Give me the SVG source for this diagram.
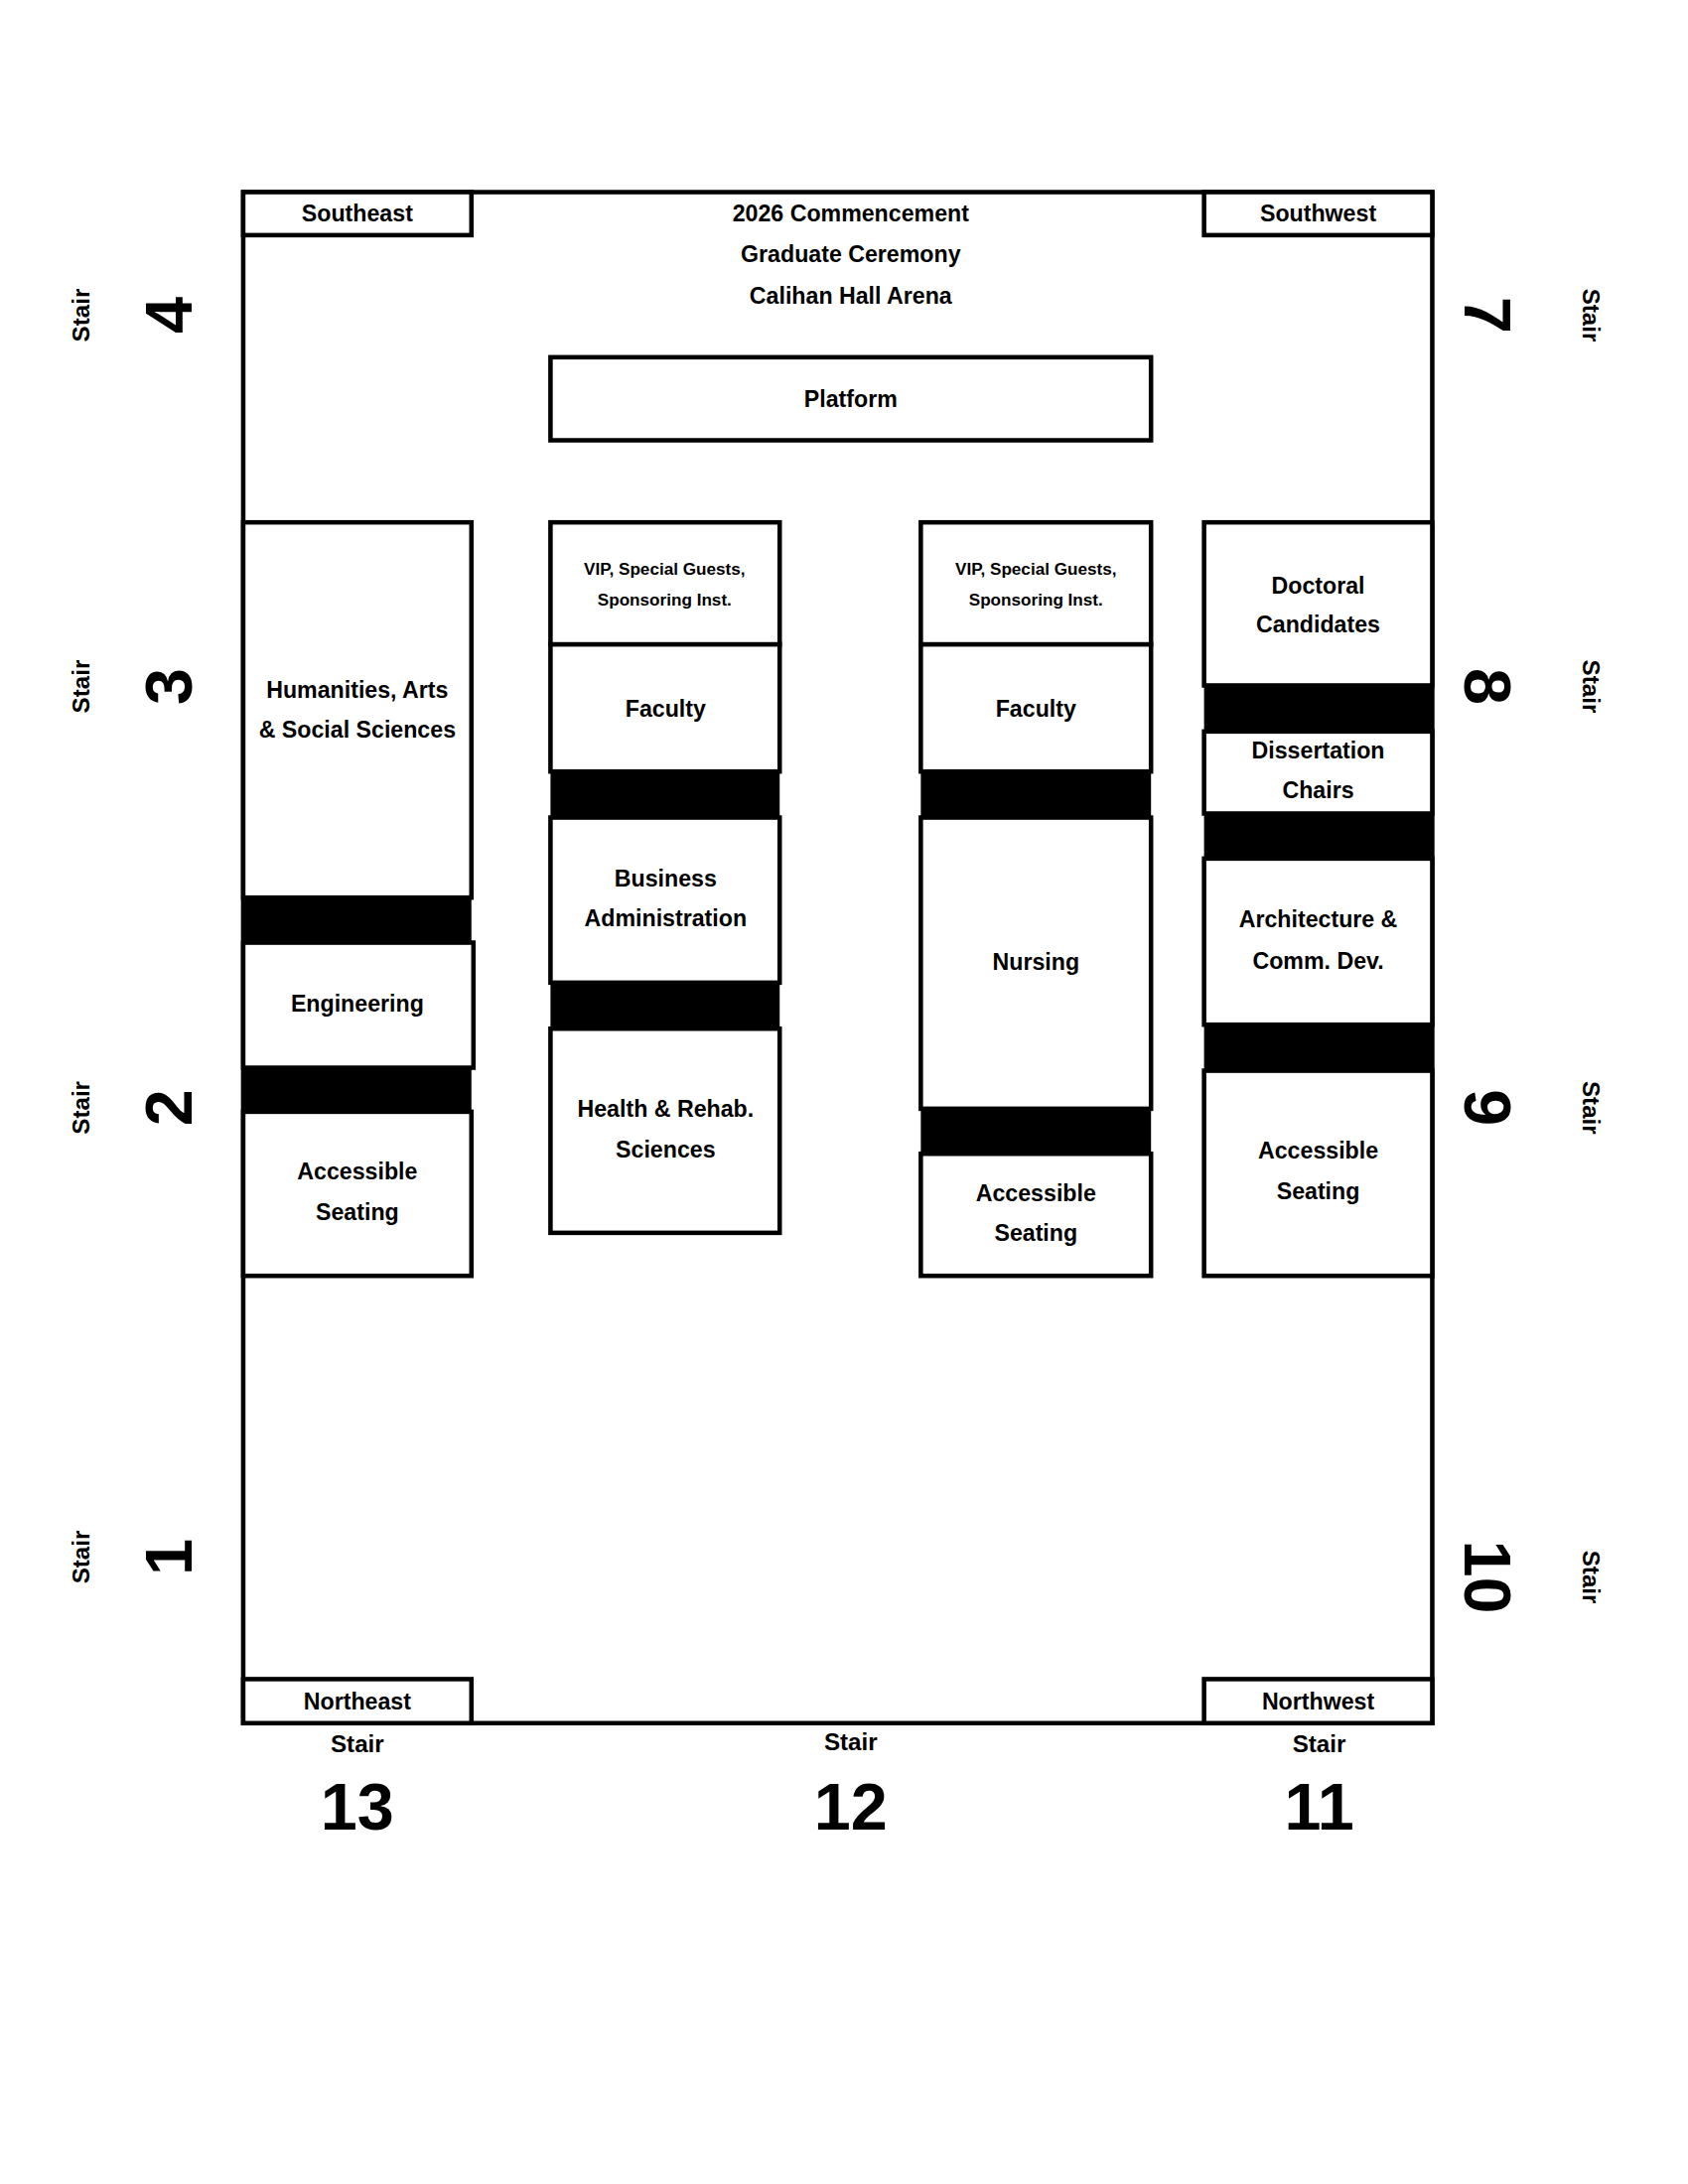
<svg xmlns="http://www.w3.org/2000/svg" width="1700" height="2200" viewBox="0 0 1700 2200">
<style>
.b{fill:#fff;stroke:#000;stroke-width:4.5}
.bar{fill:#000}
text{font-family:"Liberation Sans",Arial,sans-serif;font-weight:bold;text-anchor:middle;dominant-baseline:central;fill:#000}
.t{font-size:23px}
.s{font-size:17px}
.st{font-size:24px}
.n{font-size:66px;font-weight:900}
</style>
<rect width="1700" height="2200" fill="#fff"/>
<g transform="scale(1.008)">
<g id="arena">
<rect class="b" x="243" y="192" width="1188" height="1530"/>
<text class="t" x="850" y="213">2026 Commencement</text>
<text class="t" x="850" y="254">Graduate Ceremony</text>
<text class="t" x="850" y="296">Calihan Hall Arena</text>
</g>
<g id="corners">
<rect class="b" x="243" y="192" width="228" height="43"/><text class="t" x="357" y="213">Southeast</text>
<rect class="b" x="1203" y="192" width="228" height="43"/><text class="t" x="1317" y="213">Southwest</text>
<rect class="b" x="243" y="1678" width="228" height="44"/><text class="t" x="357" y="1700">Northeast</text>
<rect class="b" x="1203" y="1678" width="228" height="44"/><text class="t" x="1317" y="1700">Northwest</text>
</g>
<g id="platform"><rect class="b" x="550" y="357" width="600" height="83"/><text class="t" x="850" y="399">Platform</text></g>
<g id="colA">
<rect class="b" x="243" y="522" width="228" height="375"/>
<text class="t" x="357" y="689">Humanities, Arts</text><text class="t" x="357" y="729">&amp; Social Sciences</text>
<rect class="bar" x="243" y="897" width="228" height="45"/>
<rect class="b" x="243" y="942" width="230" height="125"/><text class="t" x="357" y="1003">Engineering</text>
<rect class="bar" x="243" y="1067" width="228" height="44"/>
<rect class="b" x="243" y="1111" width="228" height="164"/>
<text class="t" x="357" y="1171">Accessible</text><text class="t" x="357" y="1211">Seating</text>
</g>
<g id="colB">
<rect class="b" x="550" y="522" width="229" height="122"/>
<text class="s" x="664" y="568">VIP, Special Guests,</text><text class="s" x="664" y="599">Sponsoring Inst.</text>
<rect class="b" x="550" y="644" width="229" height="127"/><text class="t" x="665" y="708">Faculty</text>
<rect class="bar" x="550" y="771" width="229" height="46"/>
<rect class="b" x="550" y="817" width="229" height="165"/>
<text class="t" x="665" y="878">Business</text><text class="t" x="665" y="918">Administration</text>
<rect class="bar" x="550" y="982" width="229" height="46"/>
<rect class="b" x="550" y="1028" width="229" height="204"/>
<text class="t" x="665" y="1108">Health &amp; Rehab.</text><text class="t" x="665" y="1149">Sciences</text>
</g>
<g id="colC">
<rect class="b" x="920" y="522" width="230" height="122"/>
<text class="s" x="1035" y="568">VIP, Special Guests,</text><text class="s" x="1035" y="599">Sponsoring Inst.</text>
<rect class="b" x="920" y="644" width="230" height="127"/><text class="t" x="1035" y="708">Faculty</text>
<rect class="bar" x="920" y="771" width="230" height="46"/>
<rect class="b" x="920" y="817" width="230" height="291"/><text class="t" x="1035" y="961">Nursing</text>
<rect class="bar" x="920" y="1108" width="230" height="45"/>
<rect class="b" x="920" y="1153" width="230" height="122"/>
<text class="t" x="1035" y="1192">Accessible</text><text class="t" x="1035" y="1232">Seating</text>
</g>
<g id="colD">
<rect class="b" x="1203" y="522" width="228" height="163"/>
<text class="t" x="1317" y="585">Doctoral</text><text class="t" x="1317" y="624">Candidates</text>
<rect class="bar" x="1203" y="685" width="228" height="46"/>
<rect class="b" x="1203" y="731" width="228" height="82"/>
<text class="t" x="1317" y="750">Dissertation</text><text class="t" x="1317" y="790">Chairs</text>
<rect class="bar" x="1203" y="813" width="228" height="45"/>
<rect class="b" x="1203" y="858" width="228" height="166"/>
<text class="t" x="1317" y="919">Architecture &amp;</text><text class="t" x="1317" y="960">Comm. Dev.</text>
<rect class="bar" x="1203" y="1024" width="228" height="46"/>
<rect class="b" x="1203" y="1070" width="228" height="205"/>
<text class="t" x="1317" y="1150">Accessible</text><text class="t" x="1317" y="1190">Seating</text>
</g>
<g id="stairsLeft">
<text class="st" transform="translate(81,315) rotate(-90)">Stair</text><text class="n" transform="translate(169,315) rotate(-90)">4</text>
<text class="st" transform="translate(81,686) rotate(-90)">Stair</text><text class="n" transform="translate(169,686) rotate(-90)">3</text>
<text class="st" transform="translate(81,1107) rotate(-90)">Stair</text><text class="n" transform="translate(169,1107) rotate(-90)">2</text>
<text class="st" transform="translate(81,1556) rotate(-90)">Stair</text><text class="n" transform="translate(169,1556) rotate(-90)">1</text>
</g>
<g id="stairsRight">
<text class="st" transform="translate(1590,315) rotate(90)">Stair</text><text class="n" transform="translate(1486,315) rotate(90)">7</text>
<text class="st" transform="translate(1590,686) rotate(90)">Stair</text><text class="n" transform="translate(1486,686) rotate(90)">8</text>
<text class="st" transform="translate(1590,1107) rotate(90)">Stair</text><text class="n" transform="translate(1486,1107) rotate(90)">9</text>
<text class="st" transform="translate(1590,1576) rotate(90)">Stair</text><text class="n" transform="translate(1486,1576) rotate(90)">10</text>
</g>
<g id="stairsBottom">
<text class="st" x="357" y="1743">Stair</text><text class="n" x="357" y="1806">13</text>
<text class="st" x="850" y="1741">Stair</text><text class="n" x="850" y="1806">12</text>
<text class="st" x="1318" y="1743">Stair</text><text class="n" x="1318" y="1806">11</text>
</g>
</g>
</svg>
